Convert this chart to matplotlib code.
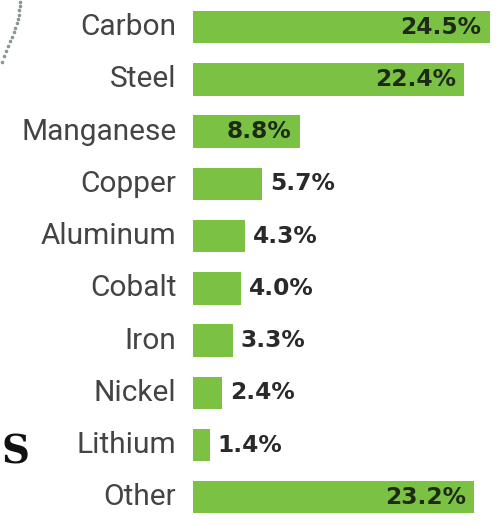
import matplotlib
matplotlib.use("Agg")
import matplotlib.pyplot as plt
import numpy as np
from matplotlib.lines import Line2D

categories = ["Carbon", "Steel", "Manganese", "Copper", "Aluminum",
              "Cobalt", "Iron", "Nickel", "Lithium", "Other"]
values = [24.5, 22.4, 8.8, 5.7, 4.3, 4.0, 3.3, 2.4, 1.4, 23.2]
value_labels = ["24.5%", "22.4%", "8.8%", "5.7%", "4.3%",
                "4.0%", "3.3%", "2.4%", "1.4%", "23.2%"]

W, H = 500, 526
fig = plt.figure(figsize=(W / 100, H / 100), dpi=100)
fig.patch.set_facecolor("white")

ax = fig.add_axes([193 / W, 0, 1 - 193 / W, 1])
ax.set_xlim(0, 307 / 12.12)
ax.set_ylim(9.55, -0.52)
ax.axis("off")

green = "#7bc143"
y = np.arange(len(categories))
ax.barh(y, values, height=0.62, color=green, edgecolor="none")

for yi, v, lab, cat in zip(y, values, value_labels, categories):
    if v >= 8:
        ax.annotate(lab, (v, yi), xytext=(-6, 0), textcoords="offset points",
                    ha="right", va="center", fontsize=16.8, fontweight="bold",
                    color="#1e2a18", family="DejaVu Sans")
    else:
        ax.annotate(lab, (v, yi), xytext=(5.5, 0), textcoords="offset points",
                    ha="left", va="center", fontsize=16.8, fontweight="bold",
                    color="#2a2a2a", family="DejaVu Sans")
    ax.annotate(cat, (0, yi), xytext=(-12, 0), textcoords="offset points",
                ha="right", va="center", fontsize=21.5, color="#444444",
                family="Roboto", annotation_clip=False)

# partial decorative elements from the original graphic
fig.text(1 / W, 1 - 464 / H, "S", ha="left", va="baseline",
         fontsize=28, fontweight="bold", family="DejaVu Serif", color="#111111")

t = np.linspace(0, 1, 14)
xs = 2 + 18 * np.sin(t * np.pi / 2)
ys = 62 - 60 * t ** 0.9
fig.add_artist(Line2D(xs / W, 1 - ys / H, transform=fig.transFigure,
                      linestyle="none", marker="o", markersize=1.6,
                      color="#8a9a90"))

fig.savefig("out.png", dpi=100, facecolor="white")
